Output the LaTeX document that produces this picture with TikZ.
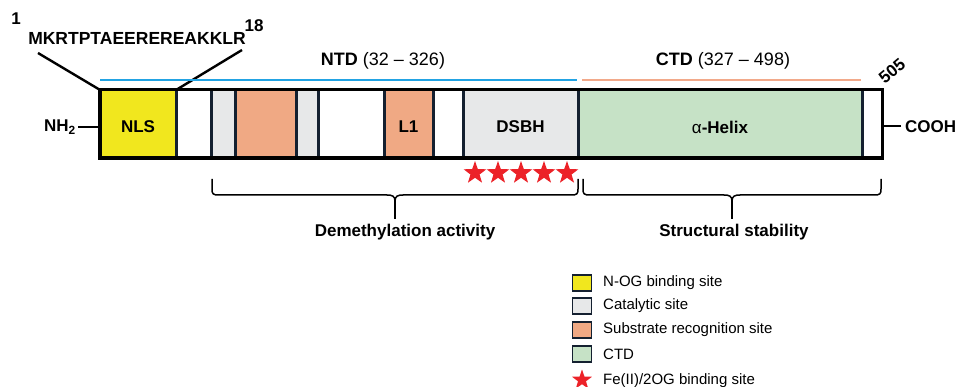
\documentclass[tikz,border=0pt]{standalone}
\usepackage{fontspec}
\setmainfont{Liberation Sans}
\usetikzlibrary{shapes.geometric}

\definecolor{nlsyellow}{HTML}{F1E71E}
\definecolor{catgray}{HTML}{E7E8E9}
\definecolor{suborange}{HTML}{F0A984}
\definecolor{ctdgreen}{HTML}{C6E2C6}
\definecolor{edge}{HTML}{142030}
\definecolor{ntdblue}{HTML}{22A3E3}
\definecolor{ctdline}{HTML}{F2A98A}
\definecolor{starred}{HTML}{EC2228}

\begin{document}
\begin{tikzpicture}[x=1pt,y=-1pt,
  segbox/.style={draw=edge, line width=3pt, minimum height=68pt, inner sep=0pt, outer sep=0pt},
  lbl/.style={font=\fontsize{17}{20}\selectfont\bfseries, inner sep=0pt},
  headlbl/.style={font=\fontsize{18}{21}\selectfont\bfseries, inner sep=0pt},
  legtxt/.style={font=\fontsize{15}{18}\selectfont, anchor=west, inner sep=0pt},
  legbox/.style={draw=edge, line width=1.8pt, minimum width=19pt, minimum height=16pt, inner sep=0pt},
  starnode/.style={star, star points=5, star point ratio=2.5, fill=starred, draw=none, minimum size=24pt, inner sep=0pt},
  bracepath/.style={line width=1.5pt, draw=black},
  stem/.style={line width=2.2pt, draw=black}
]
\useasboundingbox (0,0) rectangle (960,387);
\clip (0,0) rectangle (960,387);

% protein bar background
\node[minimum width=782pt, minimum height=68pt, fill=white, inner sep=0pt] (bar) at (491,124) {};

% domains
\newcommand{\segment}[4]{%
  \node[segbox, fill=#4, minimum width={#3-#2}] (#1) at ({(#2+#3)/2},124) {};}
\segment{nls}{100}{176}{nlsyellow}
\segment{cat1}{211}{235}{catgray}
\segment{sub1}{235}{296}{suborange}
\segment{cat2}{296}{318}{catgray}
\segment{lone}{384}{433}{suborange}
\segment{dsbh}{463}{578}{catgray}
\segment{ctd}{578}{862}{ctdgreen}
\draw[edge, line width=1pt] (176,90) -- (176,158);
\draw[edge, line width=1pt] (433,90) -- (433,158);

% outer frame
\draw[black, line width=3.4pt] (bar.north west) rectangle (bar.south east);

% domain labels
\node[lbl] at ([yshift=-3pt]nls.center) {NLS};
\node[lbl] at ([yshift=-3pt]lone.center) {L1};
\node[lbl] at ([yshift=-3pt]dsbh.center) {DSBH};
\node[lbl] at ([yshift=-3pt]ctd.center) {{\mdseries α}-Helix};

% termini
\node[lbl, anchor=east] (nh) at (76,127) {NH\textsubscript{2}};
\node[lbl, anchor=west] (cooh) at (905,127) {COOH};
\draw[black, line width=2.4pt] (nh.east) ++(2,0) coordinate (nhend) -- (bar.west |- nhend);
\draw[black, line width=2.4pt] (cooh.west) ++(-4,-1) coordinate (coend) -- (bar.east |- coend);

% N-terminal sequence
\node[lbl, font=\fontsize{17.5}{20}\selectfont\bfseries] (seq) at (137,38) {MKRTPTAEEREREAKKLR};
\node[lbl] (one) at (16,19) {1};
\node[lbl] (eighteen) at (254,26) {18};
\coordinate (seqa) at (38,53);
\coordinate (seqb) at (242,50);
\draw[black, line width=2.4pt] (seqa) -- (bar.north west);
\draw[black, line width=2.4pt] (seqb) -- (nls.north east);

% domain extents
\coordinate (ntdA) at (100,80);
\coordinate (ntdB) at (577,80);
\coordinate (ctdA) at (582,80);
\coordinate (ctdB) at (861,80);
\draw[ntdblue, line width=2.4pt] (ntdA) -- (ntdB);
\draw[ctdline, line width=2.4pt] (ctdA) -- (ctdB);
\node[headlbl] (ntd) at (383,61) {NTD {\mdseries (32 – 326)}};
\node[headlbl] (ctdl) at (723,61) {CTD {\mdseries (327 – 498)}};
\node[lbl, rotate=40] (end) at (892,71) {505};

% Fe(II)/2OG binding residues
\foreach \i/\x in {1/475,2/498,3/521,4/544,5/567}
  \node[starnode] (st\i) at (\x,173) {};

% braces
\draw[bracepath] (212,179) -- (212,189) .. controls (212,194) and (213,195) .. (219,195)
  -- (387,195) .. controls (392,195) and (395,196) .. (395,201)
  .. controls (395,196) and (398,195) .. (403,195)
  -- (571,195) .. controls (577,195) and (578,194) .. (578,189) -- (578,179);
\draw[stem] (395,199) -- (395,219);
\draw[bracepath] (583,179) -- (583,189) .. controls (583,194) and (584,195) .. (590,195)
  -- (724,195) .. controls (729,195) and (732,196) .. (732,201)
  .. controls (732,196) and (735,195) .. (740,195)
  -- (874,195) .. controls (880,195) and (881,194) .. (881,189) -- (881,179);
\draw[stem] (732,199) -- (732,219);
\node[lbl] (dem) at (405,232) {Demethylation activity};
\node[lbl] (stab) at (734,232) {Structural stability};

% legend
\node[legbox, fill=nlsyellow] (k1) at (582,283) {};
\node[legbox, fill=catgray] (k2) at (582,306) {};
\node[legbox, fill=suborange] (k3) at (582,330) {};
\node[legbox, fill=ctdgreen] (k4) at (582,354) {};
\node[starnode, minimum size=21pt] (k5) at (582,380) {};
\node[legtxt] at (603,283) {N-OG binding site};
\node[legtxt] at (603,306) {Catalytic site};
\node[legtxt] at (603,330) {Substrate recognition site};
\node[legtxt] at (603,354) {CTD};
\node[legtxt] at (603,381) {Fe(II)/2OG binding site};
\end{tikzpicture}
\end{document}
